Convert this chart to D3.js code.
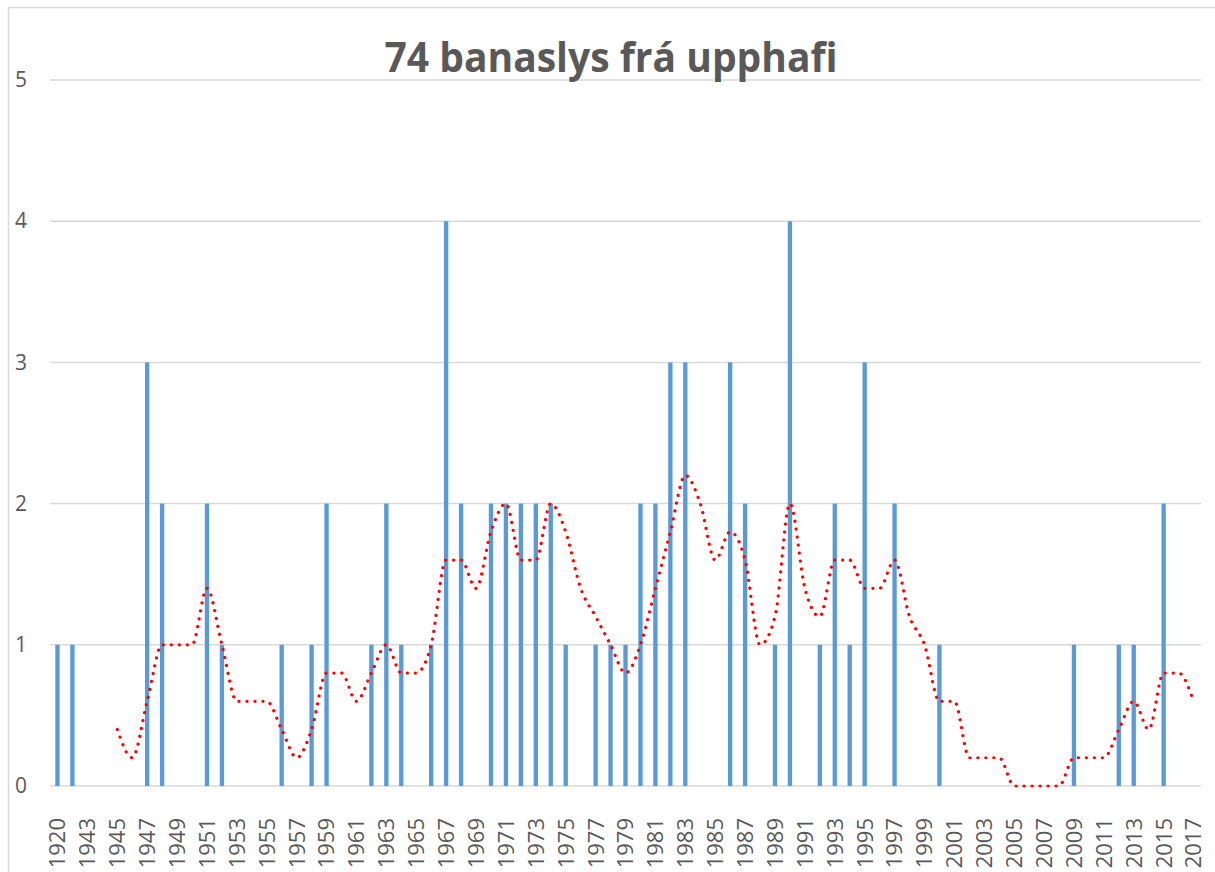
<!DOCTYPE html>
<html>
<head>
<meta charset="utf-8">
<script src="https://cdn.jsdelivr.net/npm/d3@7"></script>
<style>
  body { margin: 0; background: #fff; }
  svg { display: block; }
  .tick text { fill: #595959; font-family: "Open Sans", sans-serif; }
</style>
</head>
<body>
<div id="chart"></div>
<script>
/* data */
var years = ["1920", "1941", "1943", "1944", "1945", "1946", "1947", "1948", "1949", "1950",
  "1951", "1952", "1953", "1954", "1955", "1956", "1957", "1958", "1959", "1960",
  "1961", "1962", "1963", "1964", "1965", "1966", "1967", "1968", "1969", "1970",
  "1971", "1972", "1973", "1974", "1975", "1976", "1977", "1978", "1979", "1980",
  "1981", "1982", "1983", "1984", "1985", "1986", "1987", "1988", "1989", "1990",
  "1991", "1992", "1993", "1994", "1995", "1996", "1997", "1998", "1999", "2000",
  "2001", "2002", "2003", "2004", "2005", "2006", "2007", "2008", "2009", "2010",
  "2011", "2012", "2013", "2014", "2015", "2016", "2017"];

var deaths = [1, 1, 0, 0, 0, 0, 3, 2, 0, 0,
  2, 1, 0, 0, 0, 1, 0, 1, 2, 0,
  0, 1, 2, 1, 0, 1, 4, 2, 0, 2,
  2, 2, 2, 2, 1, 0, 1, 1, 1, 2,
  2, 3, 3, 0, 0, 3, 2, 0, 1, 4,
  0, 1, 2, 1, 3, 0, 2, 0, 0, 1,
  0, 0, 0, 0, 0, 0, 0, 0, 1, 0,
  0, 1, 1, 0, 2, 0, 0];

// dotted red trend line (5 year moving average), starts at 1945
var trendStart = "1945";
var trend = [0.4, 0.2, 0.6, 1.0, 1.0, 1.0, 1.4, 1.0, 0.6, 0.6,
  0.6, 0.4, 0.2, 0.4, 0.8, 0.8, 0.6, 0.8, 1.0, 0.8,
  0.8, 1.0, 1.6, 1.6, 1.4, 1.8, 2.0, 1.6, 1.6, 2.0,
  1.8, 1.4, 1.2, 1.0, 0.8, 1.0, 1.4, 1.8, 2.2, 2.0,
  1.6, 1.8, 1.6, 1.0, 1.2, 2.0, 1.4, 1.2, 1.6, 1.6,
  1.4, 1.4, 1.6, 1.2, 1.0, 0.6, 0.6, 0.2, 0.2, 0.2,
  0, 0, 0, 0, 0.2, 0.2, 0.2, 0.4, 0.6, 0.4,
  0.8, 0.8, 0.6];

var yTicks = [0, 1, 2, 3, 4, 5];
var title = "74 banaslys frá upphafi";

/* layout */
var width = 1215, height = 872;
var plot = {left: 50, right: 1201, top: 80, bottom: 786};

var svg = d3.select("#chart").append("svg")
    .attr("width", width)
    .attr("height", height);

// chart frame
svg.append("rect")
    .attr("x", 8.5).attr("y", 7.5)
    .attr("width", width + 20).attr("height", height + 20)
    .attr("fill", "none")
    .attr("stroke", "#d9d9d9")
    .attr("stroke-width", 1.5);

var x = d3.scaleBand()
    .domain(years)
    .range([plot.left, plot.right])
    .paddingInner(0.71)
    .paddingOuter(0.355);

var y = d3.scaleLinear()
    .domain([0, 5])
    .range([plot.bottom, plot.top]);

// gridlines
svg.append("g").selectAll("line").data(yTicks).enter()
  .append("line")
    .attr("x1", plot.left).attr("x2", plot.right)
    .attr("y1", function(d) { return y(d); })
    .attr("y2", function(d) { return y(d); })
    .attr("stroke", "#d9d9d9")
    .attr("stroke-width", 1.5);

// y axis labels
var yAxis = d3.axisLeft(y).tickValues(yTicks).tickFormat(d3.format("d")).tickSize(0).tickPadding(0);
svg.append("g")
    .attr("transform", "translate(27,0)")
    .call(yAxis)
    .call(function(g) { g.select(".domain").remove(); })
    .selectAll("text")
      .style("font-size", "21px");

// bars
svg.append("g").selectAll("rect").data(deaths).enter()
  .append("rect")
    .attr("x", function(d, i) { return x(years[i]); })
    .attr("width", x.bandwidth())
    .attr("y", function(d) { return y(d); })
    .attr("height", function(d) { return y(0) - y(d); })
    .attr("fill", "#5b9bd5");

// x axis labels, every second category
var xAxis = d3.axisBottom(x)
    .tickValues(years.filter(function(d, i) { return i % 2 === 0; }))
    .tickSize(0);

svg.append("g")
    .attr("transform", "translate(0," + plot.bottom + ")")
    .call(xAxis)
    .call(function(g) { g.select(".domain").remove(); })
    .selectAll("text")
      .style("font-size", "22px")
      .attr("text-anchor", "end")
      .attr("transform", "rotate(-90)")
      .attr("x", -32)
      .attr("y", 0)
      .attr("dy", "0.36em");

// trend line
var offset = years.indexOf(trendStart);
var line = d3.line()
    .x(function(d, i) { return x(years[i + offset]) + x.bandwidth() / 2; })
    .y(function(d) { return y(d); })
    .curve(d3.curveMonotoneX);

svg.append("path")
    .datum(trend)
    .attr("d", line)
    .attr("fill", "none")
    .attr("stroke", "#ff0000")
    .attr("stroke-width", 3.2)
    .attr("stroke-linecap", "round")
    .attr("stroke-dasharray", "0.1 7.9");

// title
svg.append("text")
    .attr("x", 611)
    .attr("y", 72)
    .attr("text-anchor", "middle")
    .attr("textLength", 453)
    .attr("lengthAdjust", "spacingAndGlyphs")
    .style("font-family", "'Open Sans', sans-serif")
    .style("font-weight", "bold")
    .style("font-size", "42px")
    .style("fill", "#595959")
    .text(title);
</script>
</body>
</html>
